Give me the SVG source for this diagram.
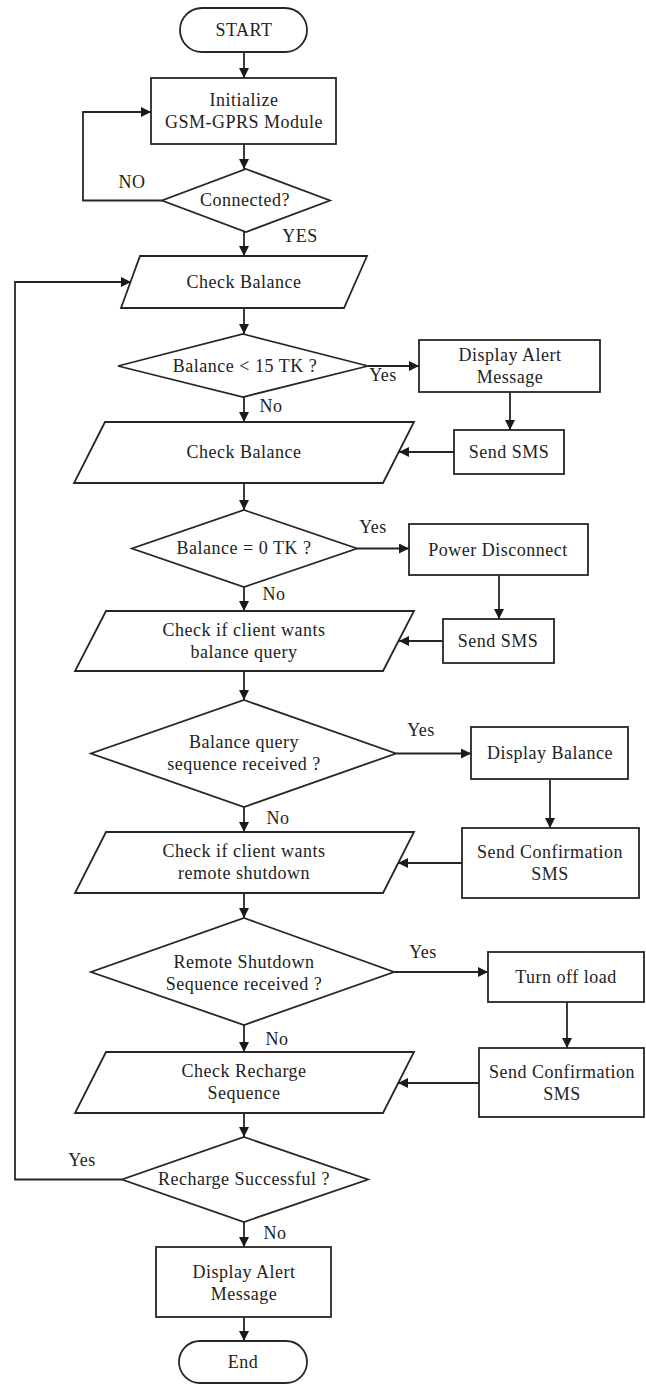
<svg xmlns="http://www.w3.org/2000/svg" width="646" height="1384" viewBox="0 0 646 1384">
<defs>
<style>
.n{fill:#fff;stroke:#262626;stroke-width:1.8}
.t{font-family:"Liberation Serif","Times New Roman",serif;font-size:18px;fill:#222;text-anchor:middle;dominant-baseline:central;letter-spacing:0.5px}
.c{fill:none;stroke:#262626;stroke-width:1.8}
</style>
<marker id="ah" viewBox="0 0 10 10" refX="10" refY="5" markerWidth="11" markerHeight="10" markerUnits="userSpaceOnUse" orient="auto">
<path d="M0,0 L10,5 L0,10 z" fill="#1a1a1a"/>
</marker>
</defs>
<rect width="646" height="1384" fill="#fff"/>

<g id="connectors">
<path class="c" d="M244,52 V78" marker-end="url(#ah)"/>
<path class="c" d="M244,144 V169" marker-end="url(#ah)"/>
<path class="c" d="M162,200.5 H83 V112 H151" marker-end="url(#ah)"/>
<path class="c" d="M244,232 V256" marker-end="url(#ah)"/>
<path class="c" d="M122,1179.5 H15 V282 H131" marker-end="url(#ah)"/>
<path class="c" d="M244,308 V334" marker-end="url(#ah)"/>
<path class="c" d="M368,366 H419" marker-end="url(#ah)"/>
<path class="c" d="M510,392 V430" marker-end="url(#ah)"/>
<path class="c" d="M454,452 H399" marker-end="url(#ah)"/>
<path class="c" d="M244,397 V422" marker-end="url(#ah)"/>
<path class="c" d="M244,483 V510" marker-end="url(#ah)"/>
<path class="c" d="M357,548.5 H409" marker-end="url(#ah)"/>
<path class="c" d="M499,575 V619" marker-end="url(#ah)"/>
<path class="c" d="M443,641 H399" marker-end="url(#ah)"/>
<path class="c" d="M244,587 V611" marker-end="url(#ah)"/>
<path class="c" d="M244,671 V700" marker-end="url(#ah)"/>
<path class="c" d="M396,753.5 H471" marker-end="url(#ah)"/>
<path class="c" d="M550,779 V828" marker-end="url(#ah)"/>
<path class="c" d="M462,863 H398" marker-end="url(#ah)"/>
<path class="c" d="M244,807 V832" marker-end="url(#ah)"/>
<path class="c" d="M244,893 V918" marker-end="url(#ah)"/>
<path class="c" d="M394,972 H488" marker-end="url(#ah)"/>
<path class="c" d="M567,1002 V1048" marker-end="url(#ah)"/>
<path class="c" d="M479,1083 H398" marker-end="url(#ah)"/>
<path class="c" d="M244,1025 V1052" marker-end="url(#ah)"/>
<path class="c" d="M244,1113 V1137" marker-end="url(#ah)"/>
<path class="c" d="M244,1222 V1247" marker-end="url(#ah)"/>
<path class="c" d="M244,1317 V1341" marker-end="url(#ah)"/>
</g>

<g id="labels">
<text class="t" x="132" y="182">NO</text>
<text class="t" x="300" y="236">YES</text>
<text class="t" x="383" y="375">Yes</text>
<text class="t" x="271" y="406">No</text>
<text class="t" x="373" y="527">Yes</text>
<text class="t" x="274" y="594">No</text>
<text class="t" x="421" y="730">Yes</text>
<text class="t" x="278" y="818">No</text>
<text class="t" x="423" y="952">Yes</text>
<text class="t" x="277" y="1039">No</text>
<text class="t" x="82" y="1160">Yes</text>
<text class="t" x="275" y="1233">No</text>
</g>

<g id="start">
<rect class="n" x="180" y="8" width="127" height="44" rx="22"/>
<text class="t" x="244" y="30">START</text>
</g>
<g id="init">
<rect class="n" x="151" y="78" width="185" height="66"/>
<text class="t" x="244" y="100">Initialize</text>
<text class="t" x="244" y="122">GSM-GPRS Module</text>
</g>
<g id="connected">
<polygon class="n" points="246,169 330,200.5 246,232 162,200.5"/>
<text class="t" x="245" y="200">Connected?</text>
</g>
<g id="check-balance-1">
<polygon class="n" points="140,256 367,256 344,308 121,308"/>
<text class="t" x="244" y="282">Check Balance</text>
</g>
<g id="balance-lt-15">
<polygon class="n" points="243,334 368,366 243,397 118,366"/>
<text class="t" x="245" y="366">Balance &lt; 15 TK ?</text>
</g>
<g id="display-alert-1">
<rect class="n" x="419" y="340" width="181" height="52"/>
<text class="t" x="510" y="355">Display Alert</text>
<text class="t" x="510" y="377">Message</text>
</g>
<g id="send-sms-1">
<rect class="n" x="454" y="430" width="110" height="44"/>
<text class="t" x="509" y="452">Send SMS</text>
</g>
<g id="check-balance-2">
<polygon class="n" points="105,422 414,422 383,483 74,483"/>
<text class="t" x="244" y="452">Check Balance</text>
</g>
<g id="balance-eq-0">
<polygon class="n" points="244,510 357,548.5 244,587 132,548.5"/>
<text class="t" x="244" y="548">Balance = 0 TK ?</text>
</g>
<g id="power-disconnect">
<rect class="n" x="409" y="524" width="179" height="51"/>
<text class="t" x="498" y="550">Power Disconnect</text>
</g>
<g id="send-sms-2">
<rect class="n" x="443" y="619" width="111" height="44"/>
<text class="t" x="498" y="641">Send SMS</text>
</g>
<g id="check-balance-query">
<polygon class="n" points="106,611 414,611 383,671 75,671"/>
<text class="t" x="244" y="630">Check if client wants</text>
<text class="t" x="244" y="652">balance query</text>
</g>
<g id="balance-query-received">
<polygon class="n" points="244,700 396,753.5 244,807 91,753.5"/>
<text class="t" x="244" y="742">Balance query</text>
<text class="t" x="244" y="764">sequence received ?</text>
</g>
<g id="display-balance">
<rect class="n" x="471" y="727" width="157" height="52"/>
<text class="t" x="550" y="753">Display Balance</text>
</g>
<g id="send-confirmation-1">
<rect class="n" x="462" y="828" width="177" height="70"/>
<text class="t" x="550" y="852">Send Confirmation</text>
<text class="t" x="550" y="874">SMS</text>
</g>
<g id="check-remote-shutdown">
<polygon class="n" points="106,832 414,832 383,893 75,893"/>
<text class="t" x="244" y="851">Check if client wants</text>
<text class="t" x="244" y="873">remote shutdown</text>
</g>
<g id="remote-shutdown-received">
<polygon class="n" points="244,918 394,972 244,1025 91,972"/>
<text class="t" x="244" y="962">Remote Shutdown</text>
<text class="t" x="244" y="984">Sequence received ?</text>
</g>
<g id="turn-off-load">
<rect class="n" x="488" y="952" width="156" height="50"/>
<text class="t" x="566" y="977">Turn off load</text>
</g>
<g id="send-confirmation-2">
<rect class="n" x="479" y="1048" width="165" height="69"/>
<text class="t" x="562" y="1072">Send Confirmation</text>
<text class="t" x="562" y="1094">SMS</text>
</g>
<g id="check-recharge">
<polygon class="n" points="106,1052 414,1052 383,1113 75,1113"/>
<text class="t" x="244" y="1071">Check Recharge</text>
<text class="t" x="244" y="1093">Sequence</text>
</g>
<g id="recharge-successful">
<polygon class="n" points="244,1137 368,1179.5 244,1222 122,1179.5"/>
<text class="t" x="244" y="1179">Recharge Successful ?</text>
</g>
<g id="display-alert-2">
<rect class="n" x="156" y="1247" width="175" height="70"/>
<text class="t" x="244" y="1272">Display Alert</text>
<text class="t" x="244" y="1294">Message</text>
</g>
<g id="end">
<rect class="n" x="179" y="1341" width="128" height="42" rx="21"/>
<text class="t" x="243" y="1362">End</text>
</g>
</svg>
